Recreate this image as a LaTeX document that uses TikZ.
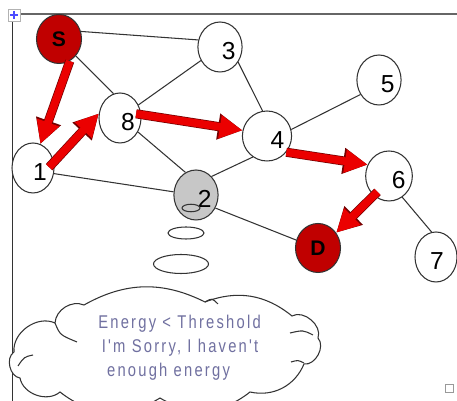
\documentclass[tikz,border=0pt]{standalone}
\usepackage{fontspec}
\setmainfont{Liberation Sans}
\newfontfamily\bubblefont[FakeStretch=0.8,LetterSpace=12]{Liberation Sans}
\usetikzlibrary{shapes.geometric,arrows.meta}
\definecolor{nodered}{RGB}{192,0,0}
\definecolor{arrowred}{RGB}{235,0,0}
\definecolor{msgblue}{RGB}{112,112,160}
\tikzset{
  vertex/.style={ellipse,draw=black!80,line width=0.6pt,fill=white,inner sep=0pt,
    minimum width=0.84cm,minimum height=1cm,text height=14pt,text depth=0pt,
    font=\fontsize{14}{14}\selectfont},
  endpoint/.style={vertex,fill=nodered,minimum width=0.9cm,minimum height=0.98cm,
    text height=8.6pt,font=\fontsize{12}{12}\selectfont\bfseries},
  link/.style={black!80,line width=0.6pt},
  flow/.style={arrowred,line width=4.4pt,-{Triangle[length=13pt,width=12.5pt]},
    preaction={draw=black!55!red,line width=5.2pt,-{Triangle[length=14pt,width=14pt]}}},
  bubble/.style={ellipse,draw=black!80,line width=0.6pt,inner sep=0pt},
  cloudline/.style={black!80,line width=0.6pt}
}
\begin{document}
\begin{tikzpicture}[x=0.02cm,y=-0.02cm]
\useasboundingbox (0,0) rectangle (457,401);
% frame of the slide
\draw[black!60,line width=1.2pt] (12,14) -- (457,14);
\draw[black!80,line width=0.5pt] (12,14) -- (12,401);
\draw[black!30,fill=white] (8,9) rectangle (20,21);
\draw[blue!70,line width=0.8pt] (10,15) -- (18,15) (14,11) -- (14,19);
\draw[black!40] (445,384) rectangle (453,392);
% nodes
\node[endpoint] (S) at (59,39) {S};
\node[vertex] (3) at (220,47) {\hspace{10pt}3};
\node[vertex] (5) at (379,80) {\hspace{10pt}5};
\node[vertex] (8) at (120,118) {\hspace{9pt}8};
\node[vertex] (4) at (267,136) {\hspace{12pt}4};
\node[vertex] (1) at (33,168) {\hspace{8pt}1};
\node[vertex,fill=black!22] (2) at (196,195) {\hspace{10pt}2};
\node[vertex] (6) at (389,176) {\hspace{11pt}6};
\node[endpoint] (D) at (318,248) {D};
\node[vertex] (7) at (436,257) {\hspace{1pt}7};
% links
\draw[link] (S.19) -- (3.162);
\draw[link] (S) -- (8.105);
\draw[link] (8) -- (3);
\draw[link] (3.-40) -- (4.100);
\draw[link] (8.-38) -- (2.115);
\draw[link] (1.-15) -- (2.172);
\draw[link] (4.236) -- (2.50);
\draw[link] (4.15) -- (5.218);
\draw[link] (2.-34) -- (D.160);
\draw[link] (6.-58) -- (7.100);
% route
\draw[flow] (S.-64) -- (1.73);
\draw[flow,shorten <=-4pt] (1.16) -- (8.168);
\draw[flow,shorten <=-3pt] (8.9) -- (4.167);
\draw[flow] (4.-40) -- (6.152);
\draw[flow,shorten <=-3pt] (6.-128) -- (D.40);
% thought of node 2
\node[bubble,minimum width=0.36cm,minimum height=0.15cm] (t1) at (191,208) {};
\node[bubble,minimum width=0.72cm,minimum height=0.24cm] (t2) at (186,233) {};
\node[bubble,minimum width=1.1cm,minimum height=0.38cm] (t3) at (181,264) {};
\draw[cloudline,fill=white] (14,352) to[bend left=60] (55,323) to[bend left=55] (84,305)
  to[bend left=28] (205,302) to[bend left=30] (292,316) to[bend left=70] (318,338)
  to[bend left=70] (304,364) to[bend left=40] (250,392) to[bend left=35] (160,398)
  to[bend left=35] (60,392) to[bend left=60] (20,378) to[bend left=70] (14,352) -- cycle;
\draw[cloudline] (55,323) .. controls (60,335) .. (77,342);
\draw[cloudline] (205,302) .. controls (212,298) .. (218,304);
\draw[cloudline] (313,335) .. controls (303,330) .. (290,333);
\draw[cloudline] (304,363) .. controls (298,360) .. (291,362);
\draw[cloudline] (33,355) .. controls (24,357) .. (18,366);
\node[anchor=west,align=left,text=msgblue,inner sep=0pt,
  font=\bubblefont\fontsize{10.5}{13.6}\selectfont] (msg) at (98,348)
  {Energy < Threshold\\\hspace{2pt}I'm Sorry, I haven't\\\hspace{5pt}enough energy};
\end{tikzpicture}
\end{document}
